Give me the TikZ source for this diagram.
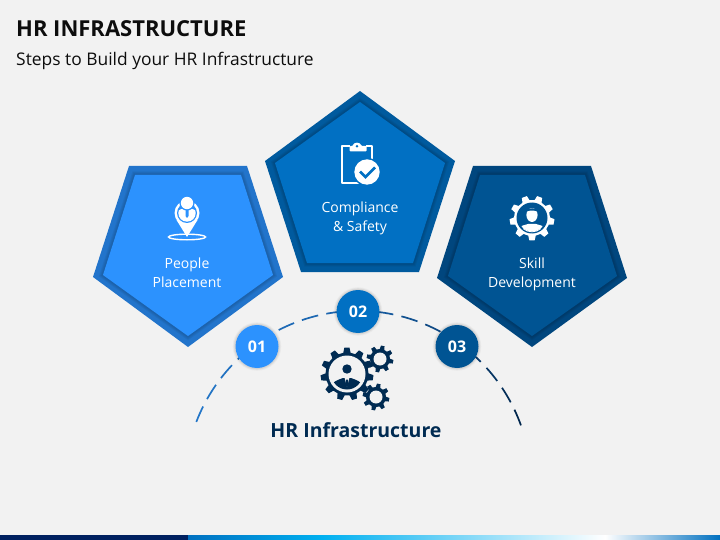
\documentclass[tikz,border=0pt]{standalone}
\usepackage{fontspec}
\setmainfont{Open Sans}
\usetikzlibrary{calc}
\definecolor{pageb}{HTML}{F2F2F2}
\definecolor{fa}{HTML}{2C92FE}\definecolor{fra}{HTML}{2274CB}
\definecolor{fb}{HTML}{0170C3}\definecolor{frb}{HTML}{005A9E}
\definecolor{fc}{HTML}{005493}\definecolor{frc}{HTML}{00467E}
\definecolor{navy}{HTML}{002B52}
\definecolor{arcl}{HTML}{2376C8}\definecolor{arcr}{HTML}{00264D}
\definecolor{bara}{HTML}{002060}\definecolor{barb}{HTML}{0070C0}\definecolor{barc}{HTML}{00B0F0}
\tikzset{
  lbl/.style={text=white,font=\fontsize{14}{19}\selectfont,align=center,inner sep=0pt},
  num/.style={circle,minimum size=43pt,inner sep=0pt,text=white,font=\fontsize{16}{18}\selectfont\bfseries},
  sdw/.style={draw=black,line join=miter,draw opacity=.05},
}
\newcommand{\hrgear}[7]{%
  \pgfmathsetmacro\hrstep{360/#5}
  \begin{scope}[shift={(#1,#2)}]
  \fill[#7] ({#6+.3*\hrstep}:#4)
    foreach \k in {1,...,#5}{
      -- ({#6+\k*\hrstep-.3*\hrstep}:#4)
      -- ({#6+\k*\hrstep-.17*\hrstep}:#3)
      -- ({#6+\k*\hrstep+.17*\hrstep}:#3)
      -- ({#6+\k*\hrstep+.3*\hrstep}:#4)
    } -- cycle;
  \end{scope}}
\newcommand{\hrpent}[4]{% outer, inner, frame colour, fill colour
  \fill[#3] #1;
  \foreach \w in {7,5,3}{\draw[sdw,line width=\w pt] #2;}
  \fill[#4] #2;}
\newcommand{\halo}[1]{%
  \foreach \w/\o in {24.3/.03,23.4/.04,22.6/.05}{\fill[black,opacity=\o] (#1) circle (\w);}}
\begin{document}
\begin{tikzpicture}[x=1pt,y=-1pt]
\useasboundingbox (0,0) rectangle (720,540);
\fill[pageb] (0,0) rectangle (720,540);
% bottom bar
\fill[bara] (0,535) rectangle (188,540);
\shade[left color=barb,right color=barc] (188,535) rectangle (322,540);
\shade[left color=barc,right color=white] (322,535) rectangle (605,540);
\shade[left color=white,right color=barb] (605,535) rectangle (720,540);
% title
\node[anchor=base west,inner sep=0pt,text=black!95,font=\fontsize{22}{24}\selectfont\bfseries] (title) at (16,37) {HR INFRASTRUCTURE};
\node[anchor=base west,inner sep=0pt,text=black!95,font=\fontsize{17.4}{20}\selectfont] (subtitle) at (16,65.5) {Steps to Build your HR Infrastructure};
% pentagons
\hrpent{(129,166)--(247,166)--(283,277)--(188,347)--(93,277)--cycle}{(135,175)--(241,175)--(273,275)--(188,336)--(103,275)--cycle}{fra}{fa}
\hrpent{(360,91)--(455,161)--(419,272)--(301,272)--(265,161)--cycle}{(360,102)--(445,163)--(413,263)--(307,263)--(275,163)--cycle}{frb}{fb}
\hrpent{(473,166)--(591,166)--(627,278)--(532,347)--(437,278)--cycle}{(480,175)--(585,175)--(617,276)--(532,336)--(448,276)--cycle}{frc}{fc}
% labels
\node[lbl] (la) at (187,272.5) {People\\Placement};
\node[lbl] (lb) at (360,218.5) {Compliance\\\& Safety};
\node[lbl] (lc) at (532,274.5) {Skill\\Development};
% icon 1: pin
\fill[white] (187,237) -- (176.5,220) -- (197.5,220) -- cycle;
\fill[white] (187,213) circle (12.5);
\fill[fa] (187,213) circle (10);
\begin{scope}
  \clip (187,213) circle (8.7);
  \fill[white] (177,224) -- (177,213) .. controls (178,209.5) and (182,209) .. (184,208) -- (190,208) .. controls (192,209) and (196,209.5) .. (197,213) -- (197,224) -- cycle;
  \fill[fa] (185.5,208) -- (188.5,208) -- (188.5,216) -- (187,218) -- (185.5,216) -- cycle;
\end{scope}
\fill[fa] (187,203) circle (7.6);
\fill[white] (187,203) circle (6.2);
\draw[white,line width=1.4pt] (187,237) ellipse (18.5 and 2.8);
% icon 2: clipboard
\draw[white,line width=2.2pt,line join=round] (350,146) -- (342.2,146) -- (342.2,183.2) -- (366,183.2);
\draw[white,line width=2.2pt,line join=round] (366,146) -- (372,146) -- (372,168);
\fill[white,rounded corners=1pt] (349.5,151.5) -- (349.5,146) -- (353,146) arc (180:360:4 and 3.4) -- (366.5,146) -- (366.5,151.5) -- cycle;
\fill[fb] (357,146.2) circle (1.4);
\fill[fb] (367,172) circle (14.2);
\fill[white] (367,172) circle (12.7);
\draw[fb,line width=2.6pt,line join=miter] (360,171.5) -- (365.5,177) -- (375,167.5);
% icon 3: gear and person
\hrgear{532}{218}{22.5}{18}{9}{10}{white}
\fill[fc] (532,218) circle (15.5);
\begin{scope}
  \clip (532,218) circle (13.5);
  \fill[white] (515,236) -- (518.5,228) .. controls (521,225.5) and (525,225) .. (528,224) -- (536,224) .. controls (539,225) and (543,225.5) .. (545.5,228) -- (549,236) -- cycle;
\end{scope}
\fill[white] (532,215) ellipse (5.6 and 7);
\fill[fc] (525.5,212) .. controls (527,207) and (537,207) .. (538.5,212) .. controls (536,210) and (528,210) .. (525.5,212) -- cycle;
\draw[white,line width=.9pt] (532,218) ++(50:13.8) arc (50:130:13.8);
% arc
\foreach \a in {0,...,16}{
  \pgfmathsetmacro\st{-(159-\a*8.35)}
  \pgfmathsetmacro\en{\st+5.6}
  \pgfmathsetmacro\mixv{\a<9 ? 100-\a*3 : 73-(\a-8)*73/8}
  \draw[arcl!\mixv!arcr,line width=1.7pt] ($(358,484)+(\st:173.2)$) arc (\st:\en:173.2);
}
% numbered circles
\halo{257,346.5}\halo{358,311.5}\halo{457,346.5}
\node[num,fill=fa] (n1) at (257,346.5) {01};
\node[num,fill=fb] (n2) at (358,311.5) {02};
\node[num,fill=fc] (n3) at (457,346.5) {03};
% centre gears
\hrgear{347}{374}{26.5}{21.5}{11}{8}{navy}
\fill[pageb] (347,374) circle (18.5);
\hrgear{380}{359}{13.5}{10}{8}{12}{navy}
\fill[pageb] (380,359) circle (6.5);
\hrgear{376}{397}{13.5}{10}{8}{12}{navy}
\fill[pageb] (376,397) circle (6.5);
\begin{scope}
  \clip (347,374) circle (15.5);
  \fill[navy] (330,392) -- (333,383) .. controls (336,380) and (341,379) .. (343,378) -- (351,378) .. controls (353,379) and (358,380) .. (361,383) -- (364,392) -- cycle;
  \fill[pageb] (344.5,377.5) -- (349.5,377.5) -- (347,387) -- cycle;
  \fill[navy] (346,379.5) -- (348,379.5) -- (348.5,385) -- (347,387.5) -- (345.5,385) -- cycle;
\end{scope}
\fill[navy] (347,369) circle (4.7);
\node[inner sep=0pt,text=navy,font=\fontsize{19.5}{24}\selectfont\bfseries] (hr) at (356,430) {HR Infrastructure};
\end{tikzpicture}
\end{document}
